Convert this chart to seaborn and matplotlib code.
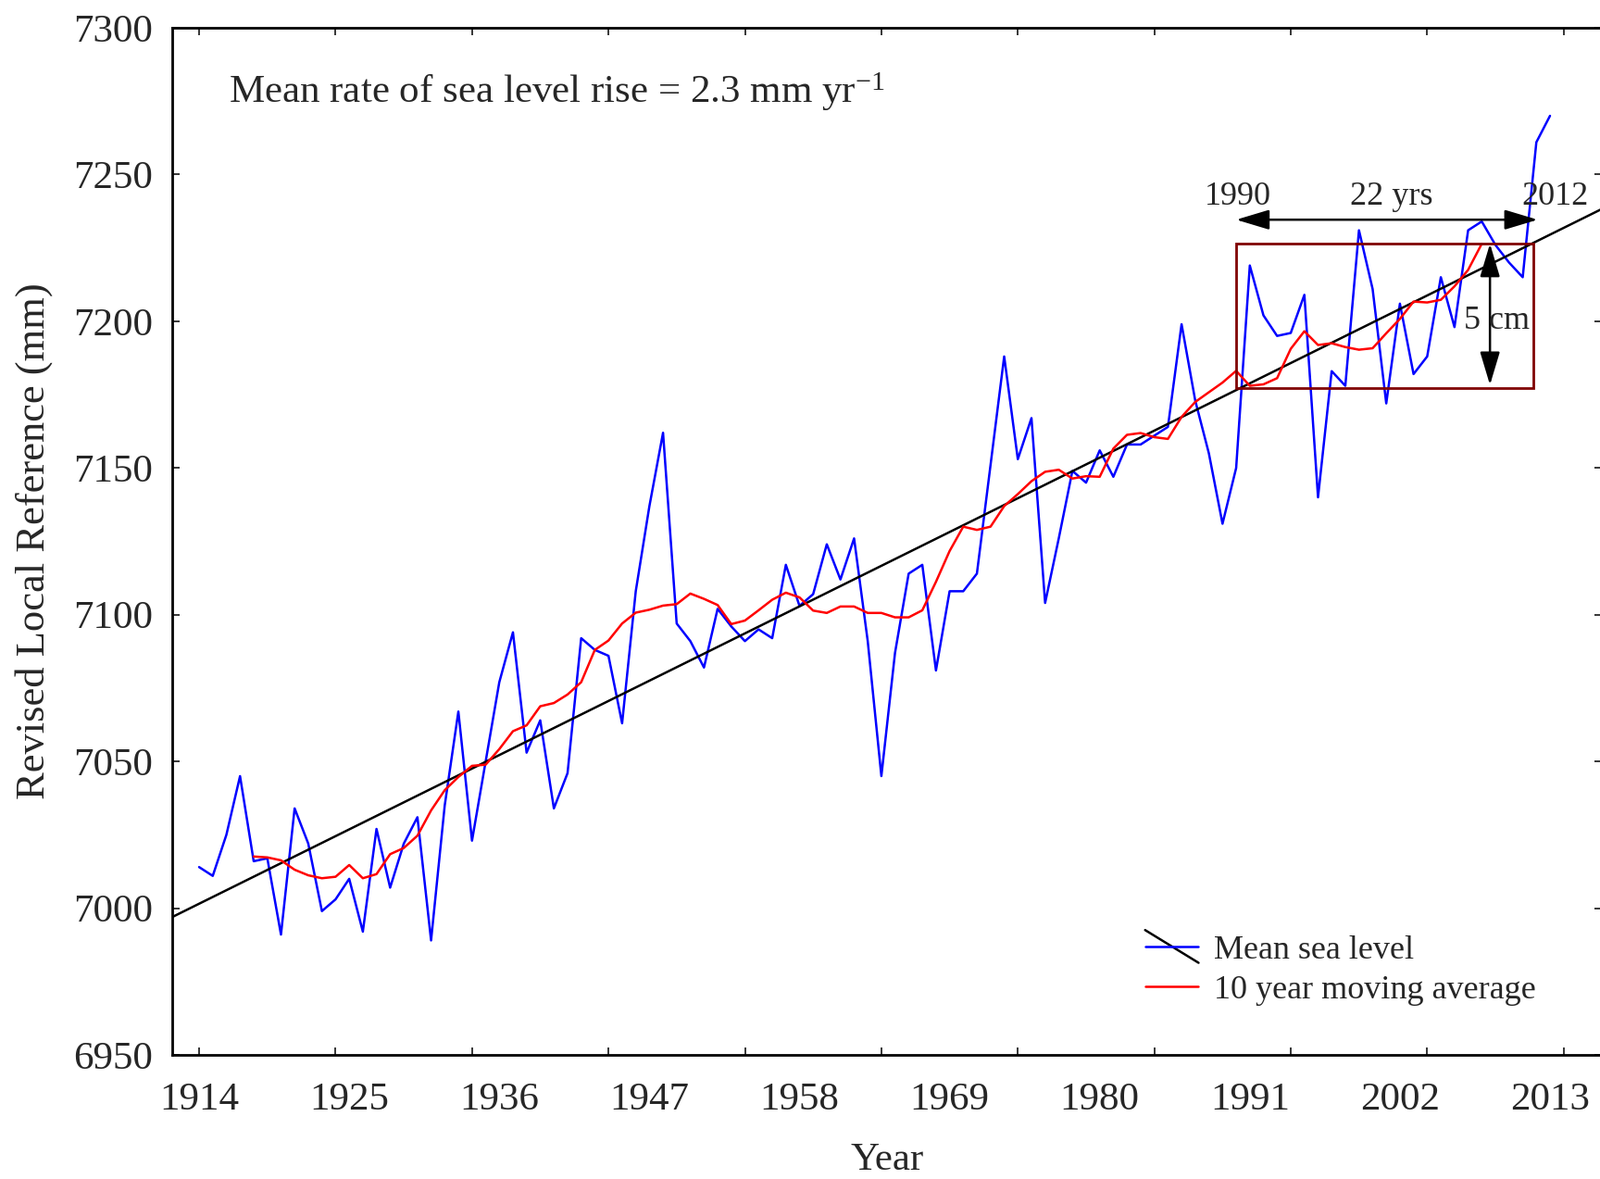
"""
Annual mean sea level 1914-2013 against the revised local reference, with the
10-year moving average and the linear trend (2.3 mm/yr).
Values read off the published figure.
"""
import numpy as np
import pandas as pd
import seaborn as sns
import matplotlib
matplotlib.use("Agg")
import matplotlib.pyplot as plt
from matplotlib.lines import Line2D
from matplotlib.patches import Rectangle
from matplotlib.legend_handler import HandlerBase

# annual mean sea level (mm), 1914..2013
MSL_FIRST_YEAR = 1914
msl = [
    7014, 7011, 7025, 7045, 7016, 7017, 6991, 7034, 7022, 6999,   # 1914-1923
    7003, 7010, 6992, 7027, 7007, 7022, 7031, 6989, 7035, 7067,   # 1924-1933
    7023, 7050, 7077, 7094, 7053, 7064, 7034, 7046, 7092, 7088,   # 1934-1943
    7086, 7063, 7108, 7137, 7162, 7097, 7091, 7082, 7102, 7096,   # 1944-1953
    7091, 7095, 7092, 7117, 7103, 7107, 7124, 7112, 7126, 7091,   # 1954-1963
    7045, 7087, 7114, 7117, 7081, 7108, 7108, 7114, 7151, 7188,   # 1964-1973
    7153, 7167, 7104, 7126, 7149, 7145, 7156, 7147, 7158, 7158,   # 1974-1983
    7161, 7164, 7199, 7173, 7155, 7131, 7150, 7219, 7202, 7195,   # 1984-1993
    7196, 7209, 7140, 7183, 7178, 7231, 7211, 7172, 7206, 7182,   # 1994-2003
    7188, 7215, 7198, 7231, 7234, 7226, 7220, 7215, 7261, 7270,   # 2004-2013
]

# 10 year moving average (mm), 1918..2008
MA_FIRST_YEAR = 1918
ma10 = [
    7017.6, 7017.3, 7016.3, 7013.1, 7011.2, 7010.2, 7010.7, 7014.7, 7010.2, 7011.6,  # 1918-1927
    7018.4, 7020.5, 7024.7, 7033.3, 7040.2, 7044.7, 7048.5, 7048.9, 7054.2, 7060.3,  # 1928-1937
    7062.3, 7068.8, 7069.9, 7072.8, 7077.0, 7088.0, 7091.2, 7097.0, 7100.7, 7101.7,  # 1938-1947
    7103.1, 7103.6, 7107.2, 7105.4, 7103.3, 7096.8, 7098.0, 7101.5, 7105.1, 7107.5,  # 1948-1957
    7105.9, 7101.4, 7100.6, 7102.8, 7102.8, 7100.6, 7100.6, 7099.1, 7099.1, 7101.5,  # 1958-1967
    7111.2, 7121.7, 7130.0, 7128.9, 7130.0, 7137.0, 7141.1, 7145.5, 7148.7, 7149.4,  # 1968-1977
    7146.4, 7147.2, 7147.0, 7156.6, 7161.3, 7161.9, 7160.5, 7159.9, 7167.4, 7172.5,  # 1978-1987
    7175.8, 7179.1, 7183.1, 7178.0, 7178.5, 7180.6, 7190.6, 7196.6, 7191.9, 7192.5,  # 1988-1997
    7191.2, 7190.3, 7190.8, 7195.9, 7200.8, 7206.7, 7206.4, 7207.3, 7211.9, 7217.5,  # 1998-2007
    7226.4,                                                                          # 2008
]

x_labels = [1914, 1925, 1936, 1947, 1958, 1969, 1980, 1991, 2002, 2013]
x_marks = [1914, 1924, 1934, 1944, 1954, 1964, 1974, 1984, 1994, 2004, 2014]
y_ticks = [6950, 7000, 7050, 7100, 7150, 7200, 7250, 7300]

BLUE = "#0000ff"
RED = "#ff0000"
LW = 1.8


class TrendHandler(HandlerBase):
    """Blue line crossed by a black diagonal, like the original legend key."""
    def create_artists(self, legend, orig_handle, xdescent, ydescent,
                       width, height, fontsize, trans):
        x0, x1 = -xdescent, width - xdescent
        yc = height / 2 - ydescent
        dy = 0.7 * height
        black = Line2D([x0, x1], [yc + dy, yc - dy], color="black", lw=LW,
                       transform=trans)
        blue = Line2D([x0, x1], [yc, yc], color=orig_handle.get_color(),
                      lw=orig_handle.get_linewidth(), transform=trans)
        return [black, blue]


def main():
    df = pd.DataFrame({"year": np.arange(MSL_FIRST_YEAR, MSL_FIRST_YEAR + len(msl)),
                       "msl": msl})
    df_ma = pd.DataFrame({"year": np.arange(MA_FIRST_YEAR, MA_FIRST_YEAR + len(ma10)),
                          "ma": ma10})

    sns.set_theme(style="ticks")
    plt.rcParams["font.family"] = ["Liberation Serif", "DejaVu Serif"]
    plt.rcParams["mathtext.fontset"] = "custom"
    plt.rcParams["mathtext.rm"] = "Liberation Serif"
    plt.rcParams["mathtext.it"] = "Liberation Serif:italic"

    fig = plt.figure(figsize=(17.28, 12.73), dpi=100)
    ax = fig.add_axes([186 / 1728, 1 - 1139 / 1273, 1544 / 1728, 1109 / 1273])
    ax.set_xlim(1912.03, 2016.8)
    ax.set_ylim(6950, 7300)

    sns.lineplot(data=df, x="year", y="msl", color=BLUE, lw=LW, ax=ax, zorder=3)
    # trend line spans the whole axis (truncate=False)
    sns.regplot(data=df, x="year", y="msl", scatter=False, ci=None, truncate=False,
                color="black", line_kws=dict(lw=LW, zorder=4), ax=ax)
    sns.lineplot(data=df_ma, x="year", y="ma", color=RED, lw=LW, ax=ax, zorder=5)

    # the 1990-2012 window
    ax.add_patch(Rectangle((1990, 7177.3), 21.8, 49.1, fill=False,
                           ec="#800000", lw=2, zorder=6))
    arrow = dict(arrowstyle="<|-|>,head_length=1.1,head_width=0.33", color="black",
                 lw=LW, shrinkA=0, shrinkB=0, mutation_scale=20)
    ax.annotate("", xy=(1990, 7234.6), xytext=(2012.1, 7234.6), arrowprops=arrow, zorder=7)
    ax.annotate("", xy=(2008.6, 7226.4), xytext=(2008.6, 7178.3), arrowprops=arrow, zorder=7)
    for x, s in [(1990.1, "1990"), (2001.4, "22 yrs"), (2013.4, "2012")]:
        ax.text(x, 7239.6, s, ha="center", va="baseline", fontsize=26, zorder=8)
    ax.text(2006.7, 7197.5, "5 cm", ha="left", va="baseline", fontsize=26, zorder=8)

    ax.text(0.0395, 0.927, r"Mean rate of sea level rise = 2.3 mm yr$^{\mathrm{-1}}$",
            transform=ax.transAxes, fontsize=31, ha="left", va="baseline")

    # labels every 11 years, tick marks every 10 years (as in the original)
    ax.set_xticks(x_labels)
    ax.set_xticklabels([str(v) for v in x_labels])
    ax.set_xticks(x_marks, minor=True)
    ax.xaxis.remove_overlapping_locs = False
    ax.tick_params(axis="x", which="major", length=0, pad=21, labelsize=31)
    ax.tick_params(axis="x", which="minor", direction="in", length=6, width=1.1,
                   top=True, bottom=True, color="black")
    ax.set_yticks(y_ticks)
    ax.tick_params(axis="y", which="major", direction="in", length=6, width=1.1,
                   left=True, right=True, pad=15, labelsize=31, color="black")
    ax.tick_params(axis="y", which="minor", left=False, right=False)

    for sp in ax.spines.values():
        sp.set_linewidth(2)
        sp.set_color("black")

    ax.set_xlabel("Year", fontsize=31)
    ax.xaxis.set_label_coords(0.5, -0.0855)
    ax.set_ylabel("Revised Local Reference (mm)", fontsize=32)
    ax.yaxis.set_label_coords(-0.0835, 0.5)

    h_msl = Line2D([], [], color=BLUE, lw=LW)
    h_ma = Line2D([], [], color=RED, lw=LW)
    ax.legend([h_msl, h_ma], ["Mean sea level", "10 year moving average"],
              handler_map={h_msl: TrendHandler()}, loc="upper left",
              bbox_to_anchor=(0.6805, 0.117), frameon=False, fontsize=26,
              handlelength=1.6, handletextpad=0.45, labelspacing=0.28,
              borderpad=0, borderaxespad=0)

    fig.savefig("out.png", dpi=100)


if __name__ == "__main__":
    main()
